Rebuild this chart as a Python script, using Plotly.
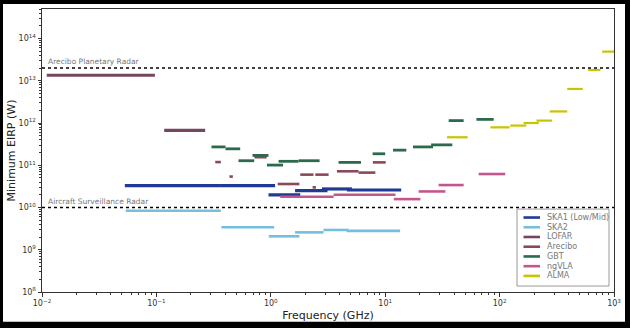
import plotly.graph_objects as go
import numpy as np

# ---------------- data (GHz start, GHz end, EIRP W) ----------------
series_names = ["SKA1 (Low/Mid)", "SKA2", "LOFAR", "Arecibo", "GBT", "ngVLA", "ALMA"]
series_colors = ["#1f3b96", "#74c0dc", "#74465f", "#8c4854", "#2b6a4c", "#c4568e", "#c8c400"]

ska1_start = [0.053, 0.36, 0.955, 1.63, 2.8, 4.63]
ska1_end = [0.36, 1.09, 1.81, 3.13, 5.12, 13.8]
ska1_eirp = [3.3e10, 3.3e10, 2.0e10, 2.5e10, 2.75e10, 2.6e10]

ska2_start = [0.054, 0.37, 0.96, 1.63, 2.89, 4.6]
ska2_end = [0.366, 1.07, 1.78, 2.89, 4.79, 13.5]
ska2_eirp = [8.4e9, 3.4e9, 2.08e9, 2.58e9, 2.94e9, 2.8e9]

lofar_start = [0.011, 0.117]
lofar_end = [0.097, 0.267]
lofar_eirp = [1.35e13, 6.7e11]

arecibo_start = [0.327, 0.435, 0.72, 1.15, 2.32, 1.81, 2.45, 3.79, 5.85, 7.8]
arecibo_end = [0.366, 0.466, 0.92, 1.78, 2.48, 2.36, 3.2, 5.85, 8.2, 10.1]
arecibo_eirp = [1.19e11, 5.4e10, 1.55e11, 3.6e10, 3.0e10, 6.0e10, 6.0e10, 7.2e10, 6.7e10, 1.17e11]

gbt_start = [0.303, 0.402, 0.522, 0.692, 0.925, 1.17, 1.75, 3.91, 7.76, 11.7, 17.5, 25.2, 35.9, 62.7]
gbt_end = [0.402, 0.54, 0.716, 0.955, 1.28, 1.75, 2.67, 6.14, 10.0, 15.3, 26.2, 38.6, 48.5, 88.8]
gbt_eirp = [2.72e11, 2.45e11, 1.28e11, 1.71e11, 1.01e11, 1.24e11, 1.28e11, 1.17e11, 1.87e11,
            2.28e11, 2.72e11, 3.04e11, 1.14e12, 1.22e12]

ngvla_start = [1.21, 3.54, 11.9, 19.6, 29.3, 65.6]
ngvla_end = [3.54, 12.3, 20.3, 33.6, 48.5, 112]
ngvla_eirp = [1.8e10, 2.0e10, 1.58e10, 2.4e10, 3.4e10, 6.2e10]

alma_start = [34.7, 83.2, 124, 162, 210, 274, 390, 595, 788]
alma_end = [52.6, 122.5, 171, 220, 288, 390, 533, 762, 1000]
alma_eirp = [4.6e11, 7.9e11, 8.7e11, 1.0e12, 1.14e12, 1.88e12, 6.4e12, 1.8e13, 4.9e13]

radar_names = ["Arecibo Planetary Radar", "Aircraft Surveillance Radar"]
radar_eirp = [2.0e13, 1.0e10]

x_tickvals = [1e-2, 1e-1, 1e0, 1e1, 1e2, 1e3]
x_ticktext = ["10<sup>−2</sup>", "10<sup>−1</sup>", "10<sup>0</sup>", "10<sup>1</sup>", "10<sup>2</sup>", "10<sup>3</sup>"]
y_tickvals = [1e8, 1e9, 1e10, 1e11, 1e12, 1e13, 1e14]
y_ticktext = ["10<sup>8</sup>", "10<sup>9</sup>", "10<sup>10</sup>", "10<sup>11</sup>",
              "10<sup>12</sup>", "10<sup>13</sup>", "10<sup>14</sup>"]

all_series = [
    (ska1_start, ska1_end, ska1_eirp, 3.2),
    (ska2_start, ska2_end, ska2_eirp, 2.6),
    (lofar_start, lofar_end, lofar_eirp, 3.2),
    (arecibo_start, arecibo_end, arecibo_eirp, 2.6),
    (gbt_start, gbt_end, gbt_eirp, 2.8),
    (ngvla_start, ngvla_end, ngvla_eirp, 2.6),
    (alma_start, alma_end, alma_eirp, 2.2),
]

# ---------------- layout geometry ----------------
W, H = 630, 328
ML, MR, MT, MB = 42, 16, 8, 35
PW, PH = W - ML - MR, H - MT - MB


def px2x(px):
    return (px - ML) / PW


def px2y(py):
    return (H - MB - py) / PH


fig = go.Figure()

for (s, e, v, lw), name, col in zip(all_series, series_names, series_colors):
    xs, ys = [], []
    for a, b, c in zip(s, e, v):
        xs += [a, b, None]
        ys += [c, c, None]
    fig.add_trace(go.Scatter(x=xs, y=ys, mode="lines", name=name,
                             line=dict(color=col, width=lw), showlegend=False,
                             hoverinfo="skip"))

shapes = []
annotations = []

# white card on black frame
shapes.append(dict(type="rect", xref="paper", yref="paper", layer="below",
                   x0=px2x(3), x1=px2x(625), y0=px2y(323), y1=px2y(3),
                   fillcolor="white", line=dict(width=0)))

# radar reference lines
for nm, val in zip(radar_names, radar_eirp):
    shapes.append(dict(type="line", xref="paper", yref="y", x0=0, x1=1,
                       y0=val, y1=val, line=dict(color="black", width=1.4, dash="dot")))
    annotations.append(dict(x=np.log10(0.0109), y=np.log10(val), xref="x", yref="y",
                            text=nm, showarrow=False, xanchor="left", yanchor="bottom",
                            yshift=0, font=dict(size=7.5, color="#777", family="DejaVu Sans")))

# manual legend
shapes.append(dict(type="rect", xref="paper", yref="paper",
                   x0=px2x(517), x1=px2x(609), y0=px2y(287), y1=px2y(209.5),
                   fillcolor="white", line=dict(color="#999", width=1)))
row0, dy = 218.0, 9.8
for i, (name, col) in enumerate(zip(series_names, series_colors)):
    yy = px2y(row0 + i * dy)
    shapes.append(dict(type="line", xref="paper", yref="paper",
                       x0=px2x(523.5), x1=px2x(540), y0=yy, y1=yy,
                       line=dict(color=col, width=2.6)))
    annotations.append(dict(x=px2x(545), y=yy, xref="paper", yref="paper", text=name,
                            showarrow=False, xanchor="left", yanchor="middle",
                            font=dict(size=8, color="#777", family="DejaVu Sans")))

minor_x = [k * 10.0 ** d for d in range(-2, 3) for k in range(2, 10)]
minor_y = [k * 10.0 ** d for d in range(8, 15) for k in range(2, 10) if k * 10.0 ** d <= 5e14]

axis_common = dict(showgrid=False, zeroline=False, showline=True, linecolor="#333",
                   linewidth=1, mirror=True, ticks="outside", ticklen=3.5, tickcolor="#333",
                   tickfont=dict(size=8, color="#333", family="DejaVu Sans"))

fig.update_layout(
    width=W, height=H,
    margin=dict(l=ML, r=MR, t=MT, b=MB),
    paper_bgcolor="black",
    plot_bgcolor="white",
    shapes=shapes,
    annotations=annotations,
    showlegend=False,
    xaxis=dict(type="log", range=[-2, 3], tickmode="array", tickvals=x_tickvals,
               ticktext=x_ticktext,
               minor=dict(tickmode="array", tickvals=minor_x, ticks="outside", ticklen=2,
                          tickcolor="#333"),
               title=dict(text="Frequency (GHz)", standoff=4,
                          font=dict(size=11, color="#222", family="DejaVu Sans")),
               **axis_common),
    yaxis=dict(type="log", range=[8, np.log10(5e14)], tickmode="array", tickvals=y_tickvals,
               ticktext=y_ticktext,
               minor=dict(tickmode="array", tickvals=minor_y, ticks="outside", ticklen=2,
                          tickcolor="#333"),
               title=dict(text="Minimum EIRP (W)", standoff=0,
                          font=dict(size=11, color="#222", family="DejaVu Sans")),
               **axis_common),
)

fig.write_html("out.html")
